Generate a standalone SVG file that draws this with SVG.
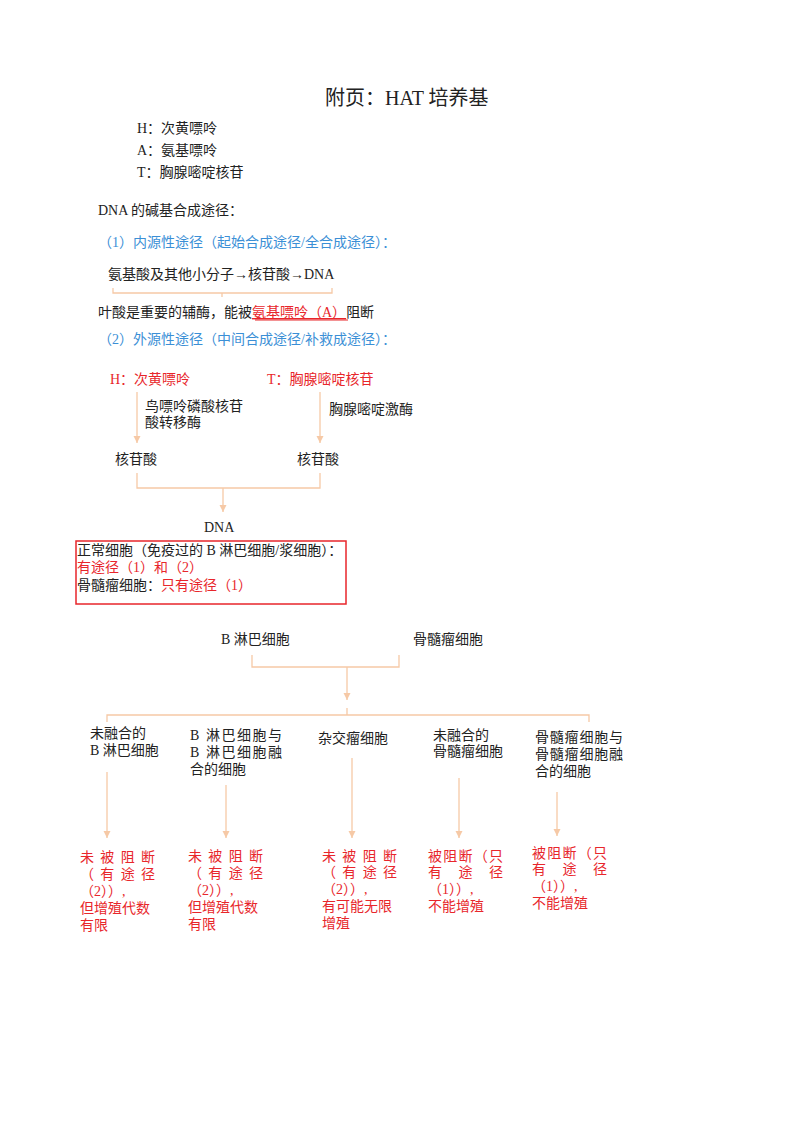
<svg xmlns="http://www.w3.org/2000/svg" width="800" height="1132" viewBox="0 0 800 1132">
<style>
text{font-family:"Liberation Serif","Noto Sans CJK SC",serif;font-size:14px;fill:#222}
.r{fill:#e8262b}.b{fill:#3b8fd6}
.c{fill:none;stroke:#f6c9a6;stroke-width:1.3}
</style>
<defs><marker id="ah" viewBox="0 0 10 10" refX="10" refY="5" markerWidth="7" markerHeight="8" orient="auto" markerUnits="userSpaceOnUse"><path d="M0,0L10,5L0,10z" fill="#f6c9a6"/></marker></defs>
<rect width="800" height="1132" fill="#fff"/>
<text x="325" y="105" style="font-size:20px">附页：HAT 培养基</text>
<text x="137" y="133">H：次黄嘌呤</text>
<text x="137" y="155">A：氨基嘌呤</text>
<text x="137" y="177">T：胸腺嘧啶核苷</text>
<text x="98" y="215">DNA 的碱基合成途径：</text>
<text x="98" y="247" class="b">（1）内源性途径（起始合成途径/全合成途径）：</text>
<text x="108" y="279">氨基酸及其他小分子→核苷酸→DNA</text>
<text x="98" y="317">叶酸是重要的辅酶，能被<tspan class="r" text-decoration="underline">氨基嘌呤（A）</tspan>阻断</text>
<line x1="255" y1="320" x2="348" y2="320" stroke="#e8262b" stroke-width="1"/>
<text x="98" y="344" class="b">（2）外源性途径（中间合成途径/补救成途径）：</text>
<text x="110" y="384" class="r">H：次黄嘌呤</text>
<text x="267" y="384" class="r">T：胸腺嘧啶核苷</text>
<text x="145" y="411">鸟嘌呤磷酸核苷</text>
<text x="145" y="427">酸转移酶</text>
<text x="329" y="414">胸腺嘧啶激酶</text>
<text x="115" y="464">核苷酸</text>
<text x="297" y="464">核苷酸</text>
<text x="204" y="532">DNA</text>
<rect x="76" y="541" width="270" height="63" fill="none" stroke="#e8262b" stroke-width="1.5"/>
<text x="77" y="555">正常细胞（免疫过的 B 淋巴细胞/浆细胞）：</text>
<text x="77" y="572" class="r">有途径（1）和（2）</text>
<text x="77" y="590">骨髓瘤细胞：<tspan class="r">只有途径（1）</tspan></text>
<g id="n-b"><text x="221" y="644">B 淋巴细胞</text></g>
<g id="n-m"><text x="413" y="644">骨髓瘤细胞</text></g>
<g id="n1"><text x="90" y="738">未融合的</text><text x="90" y="755">B 淋巴细胞</text></g>
<g id="n2"><text x="190" y="740" textLength="92">B 淋巴细胞与</text><text x="190" y="757" textLength="92">B 淋巴细胞融</text><text x="190" y="774">合的细胞</text></g>
<g id="n3"><text x="318" y="743">杂交瘤细胞</text></g>
<g id="n4"><text x="433" y="740">未融合的</text><text x="433" y="756">骨髓瘤细胞</text></g>
<g id="n5"><text x="535" y="742" textLength="88">骨髓瘤细胞与</text><text x="535" y="759" textLength="88">骨髓瘤细胞融</text><text x="535" y="776">合的细胞</text></g>
<g id="r1" class="r"><text class="r" x="80" y="862" textLength="75">未被阻断</text><text class="r" x="80" y="879" textLength="75">（有途径</text><text class="r" x="80" y="896">（2））,</text><text class="r" x="80" y="913">但增殖代数</text><text class="r" x="80" y="930">有限</text></g>
<g id="r2"><text class="r" x="188" y="861" textLength="75">未被阻断</text><text class="r" x="188" y="878" textLength="75">（有途径</text><text class="r" x="188" y="895">（2））,</text><text class="r" x="188" y="912">但增殖代数</text><text class="r" x="188" y="929">有限</text></g>
<g id="r3"><text class="r" x="322" y="861" textLength="75">未被阻断</text><text class="r" x="322" y="877" textLength="75">（有途径</text><text class="r" x="322" y="894">（2））,</text><text class="r" x="322" y="911">有可能无限</text><text class="r" x="322" y="928">增殖</text></g>
<g id="r4"><text class="r" x="428" y="861" textLength="75">被阻断（只</text><text class="r" x="428" y="877" textLength="75">有途径</text><text class="r" x="428" y="894">（1））,</text><text class="r" x="428" y="911">不能增殖</text></g>
<g id="r5"><text class="r" x="532" y="858" textLength="75">被阻断（只</text><text class="r" x="532" y="874" textLength="75">有途径</text><text class="r" x="532" y="891">（1））,</text><text class="r" x="532" y="908">不能增殖</text></g>
<g id="connectors">
<path class="c" d="M113,288V293H332V288M222,293V297"/>
<path class="c" d="M137,392V443" marker-end="url(#ah)"/>
<path class="c" d="M320,392V443" marker-end="url(#ah)"/>
<path class="c" d="M137,473V488H320V473"/>
<path class="c" d="M223,488V512" marker-end="url(#ah)"/>
<path class="c" d="M252,655V667H399V655"/>
<path class="c" d="M347,667V700" marker-end="url(#ah)"/>
<path class="c" d="M107,722V715H589V722M347,715V708"/>
<path class="c" d="M107,772V838" marker-end="url(#ah)"/>
<path class="c" d="M226,785V838" marker-end="url(#ah)"/>
<path class="c" d="M352,758V838" marker-end="url(#ah)"/>
<path class="c" d="M459,778V838" marker-end="url(#ah)"/>
<path class="c" d="M557,792V836" marker-end="url(#ah)"/>
</g>
</svg>
